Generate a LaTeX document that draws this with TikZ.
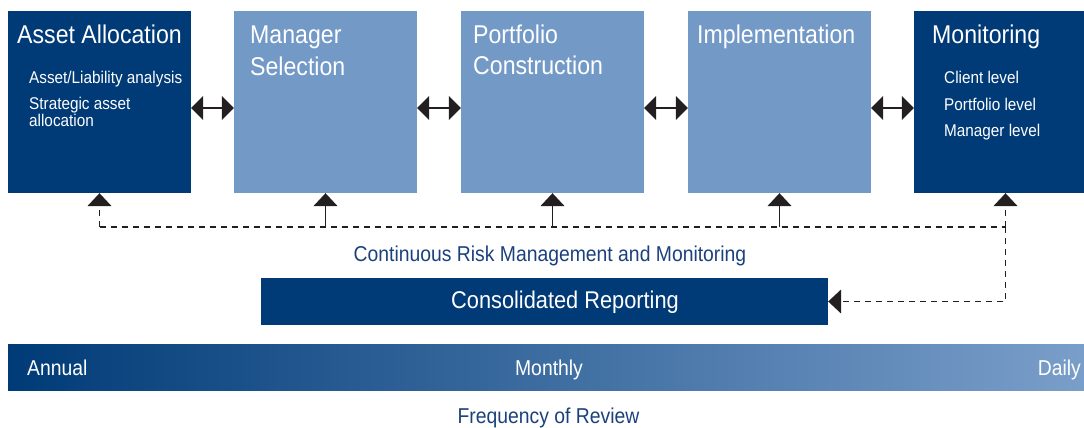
\documentclass[tikz,border=0pt]{standalone}
\usepackage{fontspec}
\setmainfont{Liberation Sans}[FakeStretch=0.9]
\usepackage{tikz}
\usetikzlibrary{arrows.meta}
\definecolor{navy}{HTML}{003B77}
\definecolor{sky}{HTML}{7399C7}
\definecolor{ink}{HTML}{231F20}
\definecolor{textblue}{HTML}{1B417D}
\tikzstyle{stage}=[rectangle,fill=sky,minimum width=183pt,minimum height=182pt,inner sep=0pt]
\tikzstyle{selected stage} = [stage, fill=navy]
\tikzstyle{heading}=[anchor=base west,inner sep=0pt,text=white,font=\fontsize{25.7}{30}\selectfont]
\tikzstyle{subitem}=[heading,font=\fontsize{17}{17}\selectfont]
\tikzstyle{caption}=[anchor=base,inner sep=0pt,text=textblue,font=\fontsize{21.5}{26}\selectfont]
\tikzstyle{barlabel}=[inner sep=0pt,text=white,font=\fontsize{21.5}{26}\selectfont]
\tikzstyle{link} = [draw=ink,line width=1.4pt,{Triangle[length=12pt,width=24pt]}-{Triangle[length=12pt,width=24pt]}]
\tikzstyle{rise} = [draw=ink,line width=1.4pt,-{Triangle[length=13pt,width=24pt]}]
\tikzstyle{feedback} = [draw=ink,line width=1.4pt,dash pattern=on 6pt off 5pt]
\begin{document}
\begin{tikzpicture}[x=1pt,y=-1pt]
    \useasboundingbox (0,0) rectangle (1084,428);
    % First we draw the stages
    \foreach \pos/\name in {{(325.5,102)/MS},{(552.5,102)/PC},{(779.5,102)/IM}}
        \node[stage] (\name) at \pos {};

    \foreach \pos/\name in {{(99.5,102)/AA},{(1005.5,102)/MO}}
    \node[selected stage] (\name) at \pos {};

    % Headings and items inside the stages
    \foreach \pos/\name/\lbl in {{(17,43.5)/ht1/Asset Allocation},{(250,44)/ht2a/Manager},{(250,75)/ht2b/Selection},
        {(473,43.5)/ht3a/Portfolio},{(473,74.5)/ht3b/Construction},{(697,44)/ht4/Implementation},{(932,43.5)/ht5/Monitoring}}
        \node[heading] (\name) at \pos {\lbl};
    \foreach \pos/\name/\lbl in {{(29,84)/it1/{Asset/Liability analysis}},{(29,110)/it2a/Strategic asset},{(29,126.5)/it2b/allocation},
        {(944,84)/it3/Client level},{(944,110.5)/it4/Portfolio level},{(944,136.5)/it5/Manager level}}
        \node[subitem] (\name) at \pos {\lbl};

    % Connect stages with arrows
    \foreach \source/ \dest in {AA/MS,MS/PC,PC/IM,IM/MO}
        \path[link] ([yshift=-6pt]\source.east) -- ([yshift=-6pt]\dest.west);

    % Risk management loop
    \foreach \name/\tap in {AA/r1,MS/r2,PC/r3,IM/r4,MO/r5}
        \coordinate (\tap) at (\name.south |- 0,227);
    \foreach \tap/\dest in {r2/MS,r3/PC,r4/IM}
        \path[rise] (\tap) -- (\dest.south);
    \path[rise,feedback] (r1) -- (AA.south);
    \path[rise,feedback] (r5) -- (MO.south);
    \path[feedback] (r1) -- (r5);
    \node[caption] (risk) at (550,261.5) {Continuous Risk Management and Monitoring};

    % Reporting
    \node[selected stage,minimum width=567pt,minimum height=47pt] (CR) at (544.5,301.5) {};
    \node[heading,anchor=base,font=\fontsize{24.2}{29}\selectfont] (crt) at (565,308.5) {Consolidated Reporting};
    \path[rise,feedback] (r5) |- (CR.east);

    % Frequency bar
    \node[rectangle,inner sep=0pt,minimum width=1076pt,minimum height=46pt,left color=navy,right color=sky!95!white] (FB) at (546,367) {};
    \node[barlabel,anchor=base west] (annual) at (27,375) {Annual};
    \node[barlabel,anchor=base] (monthly) at (549,375) {Monthly};
    \node[barlabel,anchor=base east] (daily) at (1081,375) {Daily};
    \node[caption] (freq) at (548.5,423.5) {Frequency of Review};
\end{tikzpicture}
\end{document}
